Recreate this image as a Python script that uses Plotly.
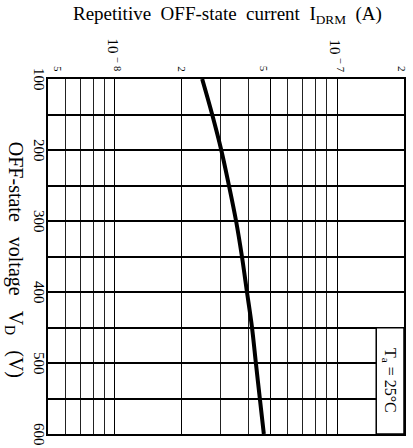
import math
import plotly.graph_objects as go

# Off-state voltage V_D (V) and repetitive off-state current I_DRM (A) at Ta = 25 C
voltage = [100, 150, 200, 250, 300, 350, 400, 450, 500, 550, 600]
current = [2.47e-8, 2.74e-8, 3.01e-8, 3.26e-8, 3.51e-8, 3.73e-8, 3.93e-8, 4.14e-8, 4.31e-8, 4.49e-8, 4.68e-8]

# Axis ticks
current_ticks = [5e-9, 1e-8, 2e-8, 5e-8, 1e-7, 2e-7]
current_ticktext = ["5", "10", "2", "5", "10", "2"]
current_exponent = ["", "\u2212 8", "", "", "\u2212 7", ""]
voltage_ticks = [100, 200, 300, 400, 500, 600]

V_RANGE = [600, 100]
I_RANGE = [math.log10(5e-9), math.log10(2e-7)]

SERIF = "Liberation Serif"
NB = "\u00a0"


def v_frac(v):
    """Fraction of the plot height (from the bottom) for a voltage."""
    return (V_RANGE[0] - v) / (V_RANGE[0] - V_RANGE[1])


def i_frac(i):
    """Fraction of the plot width (from the left) for a current."""
    return (math.log10(i) - I_RANGE[0]) / (I_RANGE[1] - I_RANGE[0])


fig = go.Figure()
fig.add_trace(go.Scatter(
    x=current, y=voltage, mode="lines",
    line=dict(color="black", width=4, shape="spline"),
    showlegend=False, hoverinfo="skip",
))

fig.update_layout(
    width=413, height=448,
    margin=dict(l=48, r=7, t=79, b=14),
    paper_bgcolor="white", plot_bgcolor="white",
    font=dict(family=SERIF, color="black"),
    xaxis=dict(
        type="log", side="top", range=I_RANGE,
        tickvals=current_ticks, showticklabels=False,
        ticks="", showgrid=True, gridcolor="black", gridwidth=1.3,
        minor=dict(dtick="D1", showgrid=True, gridcolor="#222", gridwidth=1),
        showline=True, linecolor="black", linewidth=2, mirror=True,
        zeroline=False,
    ),
    yaxis=dict(
        range=V_RANGE,
        tickvals=voltage_ticks, showticklabels=False,
        ticks="", showgrid=True, gridcolor="black", gridwidth=1.5,
        minor=dict(dtick=50, showgrid=True, gridcolor="black", gridwidth=1.5),
        showline=True, linecolor="black", linewidth=2, mirror=True,
        zeroline=False,
    ),
)

# Rotated tick labels of the voltage axis
for v in voltage_ticks:
    fig.add_annotation(
        text=str(v), xref="paper", yref="paper", x=-0.025, y=v_frac(v),
        xanchor="center", yanchor="middle", textangle=90, showarrow=False,
        font=dict(size=15, family=SERIF, color="black"),
    )

# Rotated tick labels of the current axis
shifts = [10, 0, 0, -6, 0, -2]
for val, txt, exp, dx in zip(current_ticks, current_ticktext, current_exponent, shifts):
    if exp:
        label = f"{txt}{NB}<sup>{exp}</sup>"
        size = 15
    else:
        label = txt
        size = 11
    fig.add_annotation(
        text=label, xref="paper", yref="paper", x=i_frac(val), y=1.0,
        xanchor="center", yanchor="bottom", yshift=5, xshift=dx,
        textangle=90, showarrow=False,
        font=dict(size=size, family=SERIF, color="black"),
    )

# Ambient temperature box in the lower right corner
fig.add_shape(
    type="rect", xref="x domain", yref="y domain",
    x0=0.922, x1=1.0, y0=0.0, y1=0.299,
    line=dict(color="black", width=1.5), fillcolor="white", layer="above",
)
fig.add_annotation(
    text=f"T<sub>a</sub>{NB}={NB}25\u00b0C", xref="paper", yref="paper",
    x=0.961, y=0.152, xanchor="center", yanchor="middle",
    textangle=90, showarrow=False,
    font=dict(size=16, family=SERIF, color="black"),
)

# Axis titles
fig.add_annotation(
    text=f"Repetitive{NB}{NB}OFF-state{NB}{NB}current{NB}{NB}I<sub>DRM</sub>{NB}{NB}(A)",
    xref="paper", yref="paper", x=0.505, y=1.18,
    xanchor="center", yanchor="middle", showarrow=False,
    font=dict(size=19, family=SERIF, color="black"),
)
fig.add_annotation(
    text=f"OFF-state{NB}{NB}{NB}voltage{NB}{NB}{NB}V<sub>D</sub>{NB}{NB}{NB}(V)",
    xref="paper", yref="paper", x=-0.092, y=0.49,
    xanchor="center", yanchor="middle", textangle=90, showarrow=False,
    font=dict(size=20, family=SERIF, color="black"),
)

fig.write_html("out.html")
